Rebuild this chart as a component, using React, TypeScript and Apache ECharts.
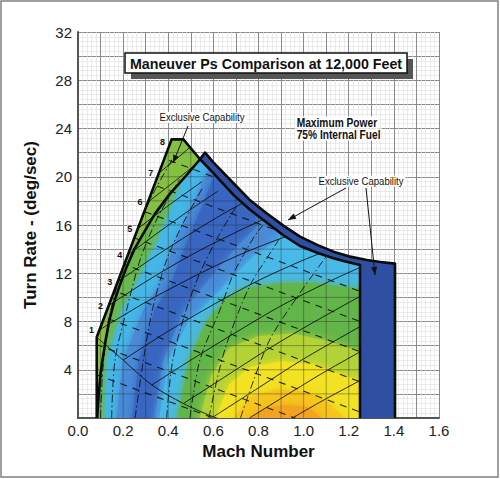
import React, { useEffect, useRef } from "react";
import * as echarts from "echarts";

type P = [number, number];

// ---- axis tick labels ----
const machTickLabels = ["0.0", "0.2", "0.4", "0.6", "0.8", "1.0", "1.2", "1.4", "1.6"];
const turnRateTickLabels = ["4", "8", "12", "16", "20", "24", "28", "32"];

// ---- envelope A (older aircraft, "old") ----
const oldLeftEdge: P[] = [[0.083, 0], [0.083, 6.7], [0.415, 23.1]];
const oldTopEdge: P[] = [
  [0.467, 23.1], [0.541, 21.45], [0.6, 20.3], [0.689, 18.5], [0.76, 17.3], [0.836, 16.2],
  [0.91, 15.15], [0.984, 14.26], [1.06, 13.7], [1.132, 13.24], [1.19, 12.95], [1.25, 12.69],
];
// ---- envelope B (newer aircraft, "new") ----
const newLeftEdge: P[] = [
  [0.085, 0], [0.092, 2], [0.1, 3.7], [0.112, 5.2], [0.123, 6.5], [0.14, 8.2], [0.16, 9.6],
  [0.185, 11], [0.215, 12.5], [0.25, 14.0], [0.29, 15.3], [0.34, 16.9], [0.408, 18.6],
  [0.475, 20.0], [0.541, 21.45], [0.563, 22.0],
];
const newTopEdge: P[] = [
  [0.6, 21.2], [0.689, 19.46], [0.76, 18.1], [0.836, 16.97], [0.91, 15.95], [0.984, 15.03],
  [1.06, 14.35], [1.132, 13.79], [1.2, 13.4], [1.28, 13.1], [1.34, 12.93], [1.405, 12.8],
];

// ---- Ps colour field: band boundaries ----
const cyanLeftBoundary: P[] = [[0.12, 0], [0.13, 4.8], [0.2, 9], [0.24, 10.4], [0.35, 14.5], [0.44, 18.6], [0.5, 21], [0.52, 26]];
const blueLeftBoundary: P[] = [[0.17, 0], [0.2, 4.8], [0.29, 9], [0.36, 11], [0.43, 14.5], [0.53, 18.6], [0.6, 21.5], [0.62, 26]];
const coreLeftBoundary: P[] = [[0.24, 0], [0.27, 4.8], [0.34, 9], [0.41, 11], [0.48, 14.5], [0.56, 18], [0.62, 21], [0.65, 26]];
const coreRightBoundary: P[] = [[0.34, 0], [0.38, 4.8], [0.47, 9], [0.56, 11], [0.72, 14.5], [0.8, 16], [0.84, 26]];
const cyanInnerShell: P[] = [[0.36, 0], [0.4, 4.8], [0.49, 8], [0.62, 10.4], [0.7, 12], [0.78, 13.5], [0.87, 14.5], [0.93, 16], [1.5, 16]];
const greenInnerShell: P[] = [[0.44, 0], [0.49, 4.8], [0.57, 8], [0.66, 10], [0.75, 10.8], [0.9, 11.2], [1.05, 11.2], [1.2, 10.8], [1.5, 10.5]];
const yellowGreenShell: P[] = [[0.54, 0], [0.59, 3.5], [0.67, 5.8], [0.8, 6.8], [0.95, 7.0], [1.1, 6.4], [1.3, 5.2], [1.5, 5]];
const yellowShell: P[] = [[0.61, 0], [0.67, 2.8], [0.76, 4.2], [0.9, 4.7], [1.05, 4.4], [1.2, 3.4], [1.3, 2.8], [1.5, 2.5]];
const lightOrangeShell: P[] = [[0.69, 0], [0.76, 1.7], [0.88, 2.4], [1.0, 2.2], [1.1, 1.4], [1.18, 0]];
const orangeShell: P[] = [[0.76, 0], [0.83, 0.8], [0.92, 1.1], [1.02, 0.9], [1.08, 0]];

// ---- overlay lines ----
const loadFactorPoints: P[] = [[0.095, 7.3], [0.135, 9.3], [0.176, 11.3], [0.22, 13.5], [0.265, 15.7], [0.31, 17.9], [0.358, 20.3], [0.41, 22.9]];
const loadFactorLabels = ["1", "2", "3", "4", "5", "6", "7", "8"];
const risingLines: P[][] = [
  [[0.095, 7.3], [0.3, 9.6], [0.5, 11.6], [0.7, 13.4], [0.9, 14.9], [1.0, 15.5]],
  [[0.135, 9.3], [0.3, 11.3], [0.5, 13.5], [0.7, 15.4], [0.85, 16.7]],
  [[0.176, 11.3], [0.35, 13.5], [0.5, 15.3], [0.65, 17.0], [0.75, 18.0]],
  [[0.22, 13.5], [0.35, 15.3], [0.5, 17.3], [0.62, 18.8]],
  [[0.265, 15.7], [0.4, 17.6], [0.55, 19.6]],
  [[0.31, 17.9], [0.42, 19.5], [0.52, 21.0]],
  [[0.358, 20.3], [0.45, 21.7], [0.5, 22.5]],
  [[0.2, 4.8], [0.4, 7.2], [0.6, 9.4], [0.8, 11.4], [1.0, 13.1], [1.15, 14.2]],
  [[0.327, 2.74], [0.5, 4.8], [0.7, 7.1], [0.9, 9.3], [1.1, 11.2], [1.3, 12.9]],
  [[0.467, 1.2], [0.65, 3.4], [0.85, 5.8], [1.05, 8.0], [1.3, 10.6]],
  [[0.6, 0.1], [0.8, 2.5], [1.0, 4.9], [1.3, 8.1]],
  [[0.76, 0], [0.95, 2.2], [1.1, 3.9], [1.3, 6.0]],
  [[0.95, 0], [1.1, 1.6], [1.3, 3.6]],
];
const descendingLine: P[] = [[0.083, 6.7], [0.2, 4.8], [0.327, 2.74], [0.467, 1.2], [0.6, 0.1], [0.7, -0.5]];
const dashDotLines: P[][] = [
  [[0.1, 0], [0.11, 4], [0.135, 8], [0.19, 12], [0.26, 15.5], [0.33, 18.5], [0.42, 21.5]],
  [[0.149, 0], [0.164, 4.8], [0.216, 9], [0.275, 13.1], [0.35, 16.5], [0.45, 19.8]],
  [[0.253, 0], [0.29, 4.8], [0.33, 9], [0.393, 13.1], [0.47, 16.3], [0.55, 19.0]],
  [[0.393, 0], [0.42, 4.8], [0.48, 9], [0.54, 12], [0.62, 15.0], [0.7, 17.5]],
  [[0.496, 0], [0.54, 4.8], [0.63, 9], [0.69, 12], [0.78, 15], [0.82, 16.0]],
  [[0.58, 0], [0.62, 3.5], [0.66, 6.2], [0.76, 10.9], [0.87, 14.2], [0.9, 15.1]],
  [[0.72, 0], [0.78, 3.2], [0.85, 6.5], [0.97, 10], [1.12, 13.9]],
];
const dashedLines: P[][] = [
  [[0.08, 3.6], [1.25, -4.5]], [[0.08, 6.1], [1.25, -2.0]], [[0.08, 8.6], [1.25, 0.5]],
  [[0.08, 11.1], [1.25, 3.0]], [[0.08, 13.6], [1.25, 5.5]], [[0.08, 16.1], [1.25, 8.0]],
  [[0.08, 18.6], [1.25, 10.5]], [[0.08, 21.1], [1.25, 13.0]], [[0.08, 23.6], [1.25, 15.5]],
  [[0.08, 26.1], [1.25, 18.0]],
];

const FONT = "'Liberation Sans', Arial, sans-serif";

const rightOf = (c: P[]): P[] => [...c, [c[c.length - 1][0], 30], [1.6, 30], [1.6, -2], [c[0][0], -2]];
const shell = (c: P[]): P[] => [[c[0][0], -2], ...c, [c[c.length - 1][0], -2]];

const heatLayers: { pts: P[]; color: string }[] = [
  { pts: [[0, -2], [0, 30], [1.6, 30], [1.6, -2]], color: "#6ab84b" },
  { pts: rightOf(cyanLeftBoundary), color: "#45b7e6" },
  { pts: rightOf(blueLeftBoundary), color: "#4a8bd7" },
  { pts: rightOf(coreLeftBoundary), color: "#3966c0" },
  { pts: rightOf(coreRightBoundary), color: "#4a8bd7" },
  { pts: shell(cyanInnerShell), color: "#48b9e7" },
  { pts: shell(greenInnerShell), color: "#62b549" },
  { pts: shell(yellowGreenShell), color: "#b3d236" },
  { pts: shell(yellowShell), color: "#f2e220" },
  { pts: shell(lightOrangeShell), color: "#f6c51d" },
  { pts: shell(orangeShell), color: "#f2a323" },
];

function renderItem(_params: any, api: any) {
  const px = (pts: P[]) => pts.map((p) => api.coord(p));
  const oldPoly: P[] = [...oldLeftEdge, ...oldTopEdge, [oldTopEdge[oldTopEdge.length - 1][0], 0]];
  const newPoly: P[] = [...newLeftEdge, ...newTopEdge, [newTopEdge[newTopEdge.length - 1][0], 0]];
  const oldPx = px(oldPoly);
  const newPx = px(newPoly);

  const heat = heatLayers.map((l, i) => ({
    type: "polygon",
    shape: { points: px(l.pts), smooth: i === 0 ? 0 : 0 },
    style: i === 0
      ? { fill: l.color, stroke: null }
      : { fill: l.color, stroke: null, shadowBlur: 9, shadowColor: l.color, shadowOffsetX: 0, shadowOffsetY: 0 },
  }));

  const overlay: any[] = [];
  for (let k = 1; k <= 13; k++) {
    overlay.push({ type: "polyline", shape: { points: px([[k / 10, 0], [k / 10, 24]]) }, style: { stroke: "rgba(40,40,40,0.45)", lineWidth: 0.9, fill: null } });
  }
  for (let k = 2; k <= 24; k += 2) {
    overlay.push({ type: "polyline", shape: { points: px([[0, k], [1.3, k]]) }, style: { stroke: "rgba(40,40,40,0.45)", lineWidth: 0.9, fill: null } });
  }
  dashedLines.forEach((l) =>
    overlay.push({ type: "polyline", shape: { points: px(l) }, style: { stroke: "rgba(10,10,10,0.85)", lineWidth: 1.1, fill: null, lineDash: [7, 6] } })
  );
  dashDotLines.forEach((l) =>
    overlay.push({ type: "polyline", shape: { points: px(l), smooth: 0.3 }, style: { stroke: "rgba(10,10,10,0.85)", lineWidth: 1, fill: null, lineDash: [8, 3, 1.5, 3] } })
  );
  risingLines.forEach((l) =>
    overlay.push({ type: "polyline", shape: { points: px(l), smooth: 0.3 }, style: { stroke: "rgba(10,10,10,0.85)", lineWidth: 1, fill: null } })
  );
  overlay.push({ type: "polyline", shape: { points: px(descendingLine), smooth: 0.3 }, style: { stroke: "rgba(10,10,10,0.85)", lineWidth: 1, fill: null } });

  const labels = loadFactorPoints.map((p, i) => {
    const c = api.coord(p);
    return {
      type: "text",
      style: { text: loadFactorLabels[i], x: c[0] - 8, y: c[1], font: `bold 9px ${FONT}`, fill: "#111", align: "center", verticalAlign: "middle" },
    };
  });

  return {
    type: "group",
    children: [
      { type: "polygon", shape: { points: newPx }, style: { fill: "#2f4fa3", stroke: null } },
      { type: "polygon", shape: { points: oldPx }, style: { fill: "#86c043", stroke: null } },
      {
        type: "group",
        clipPath: { type: "polygon", shape: { points: oldPx } },
        children: [
          { type: "group", clipPath: { type: "polygon", shape: { points: newPx } }, children: heat },
          ...overlay,
        ],
      },
      { type: "polyline", shape: { points: newPx }, style: { stroke: "#0a0a0a", lineWidth: 2.6, fill: null, lineJoin: "round" } },
      { type: "polyline", shape: { points: oldPx }, style: { stroke: "#0a0a0a", lineWidth: 2.6, fill: null, lineJoin: "round" } },
      ...labels,
    ],
  };
}

export default function App() {
  const ref = useRef<HTMLDivElement>(null);
  useEffect(() => {
    if (!ref.current) return;
    const chart = echarts.init(ref.current, undefined, { renderer: "svg" });
    const arrowHead = (tip: P, from: P) => {
      const dx = tip[0] - from[0];
      const dy = tip[1] - from[1];
      const len = Math.sqrt(dx * dx + dy * dy);
      const ux = dx / len, uy = dy / len;
      const L = 8, W = 3;
      return {
        type: "polygon",
        z: 100,
        shape: { points: [tip, [tip[0] - ux * L - uy * W, tip[1] - uy * L + ux * W], [tip[0] - ux * L + uy * W, tip[1] - uy * L - ux * W]] },
        style: { fill: "#111" },
      };
    };
    const arrows: [P, P][] = [
      [[188, 126], [173, 163]],
      [[346, 188], [288, 220]],
      [[366, 188], [375, 275]],
    ];
    const txt = (text: string, x: number, y: number, font: string, scaleX: number, align: string, bg: boolean) => ({
      type: "text", z: 102, x, y, scaleX,
      style: { text, x: 0, y: 0, font, fill: "#111", align, verticalAlign: "middle", ...(bg ? { backgroundColor: "#fff", padding: [0, 2] } : {}) },
    });
    const graphics: any[] = [
      { type: "rect", z: 100, shape: { x: 1, y: 1, width: 497, height: 476 }, style: { fill: null, stroke: "#808080", lineWidth: 1.5 } },
      { type: "rect", z: 100, shape: { x: 131, y: 59, width: 282, height: 20 }, style: { fill: "#555" } },
      { type: "rect", z: 101, shape: { x: 125, y: 53, width: 282, height: 20 }, style: { fill: "#fff", stroke: "#111", lineWidth: 1.5 } },
      txt("Maneuver Ps Comparison at 12,000 Feet", 266, 63.5, `bold 15px ${FONT}`, 0.95, "center", false),
      txt("Maximum Power", 295, 122.5, `bold 12px ${FONT}`, 0.85, "left", true),
      txt("75% Internal Fuel", 295, 134.5, `bold 12px ${FONT}`, 0.85, "left", true),
      txt("Exclusive Capability", 202, 117.5, `11px ${FONT}`, 0.87, "center", true),
      txt("Exclusive Capability", 361, 181, `11px ${FONT}`, 0.87, "center", true),
    ];
    arrows.forEach(([from, tip]) => {
      graphics.push({ type: "line", z: 100, shape: { x1: from[0], y1: from[1], x2: tip[0], y2: tip[1] }, style: { stroke: "#111", lineWidth: 1 } });
      graphics.push(arrowHead(tip, from));
    });

    chart.setOption({
      animation: false,
      backgroundColor: "#fff",
      grid: { left: 78, top: 32, right: 61, bottom: 61, containLabel: false },
      xAxis: {
        type: "value", min: 0, max: 1.6, interval: 0.1,
        name: "Mach Number", nameLocation: "middle", nameGap: 24,
        nameTextStyle: { fontFamily: FONT, fontWeight: "bold", fontSize: 17, color: "#111" },
        axisLine: { show: true, onZero: false, lineStyle: { color: "#555", width: 2 } },
        axisTick: { show: false },
        axisLabel: {
          fontFamily: FONT, fontSize: 15, color: "#222", margin: 5,
          formatter: (v: number) => (machTickLabels.includes(v.toFixed(1)) && Math.round(v * 10) % 2 === 0 ? v.toFixed(1) : ""),
        },
        splitLine: { show: true, lineStyle: { color: "#8a8a8a", width: 1 } },
        minorTick: { show: false, splitNumber: 5 },
        minorSplitLine: { show: true, lineStyle: { color: "#dedede", width: 0.6 } },
      },
      yAxis: {
        type: "value", min: 0, max: 32, interval: 2,
        name: "Turn Rate - (deg/sec)", nameLocation: "middle", nameGap: 39,
        nameTextStyle: { fontFamily: FONT, fontWeight: "bold", fontSize: 17, color: "#111" },
        axisLine: { show: true, onZero: false, lineStyle: { color: "#555", width: 2 } },
        axisTick: { show: false },
        axisLabel: {
          fontFamily: FONT, fontSize: 15, color: "#222", margin: 6,
          formatter: (v: number) => (turnRateTickLabels.includes(String(Math.round(v))) ? String(Math.round(v)) : ""),
        },
        splitLine: { show: true, lineStyle: { color: "#8a8a8a", width: 1 } },
        minorTick: { show: false, splitNumber: 5 },
        minorSplitLine: { show: true, lineStyle: { color: "#dedede", width: 0.6 } },
      },
      series: [
        { type: "custom", coordinateSystem: "cartesian2d", data: [[0, 0]], renderItem, silent: true, z: 3 },
      ],
      graphic: graphics,
    });
    return () => chart.dispose();
  }, []);
  return <div ref={ref} style={{ position: "fixed", left: 0, top: 0, width: 500, height: 479 }} />;
}
